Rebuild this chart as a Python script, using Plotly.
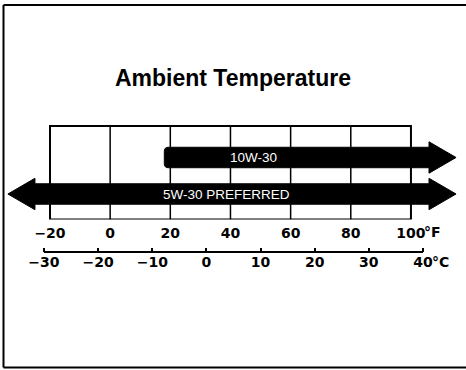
import plotly.graph_objects as go

# Oil grades and the ambient temperature span (°F) each is recommended for.
grades = ["10W-30", "5W-30 PREFERRED"]
grade_from_f = [18, -34]        # left end of each band
grade_to_f = [115, 115]         # right end of each band
open_low = [False, True]        # band continues below its left end
open_high = [True, True]        # band continues above its right end
grade_lane = [2, 1]

f_ticks = [-20, 0, 20, 40, 60, 80, 100]
f_ticktext = ["\u221220", "0", "20", "40", "60", "80", "100"]
c_ticks = [-30, -20, -10, 0, 10, 20, 30, 40]
c_ticktext = ["\u221230", "\u221220", "\u221210", "0", "10", "20", "30", "40"]

W, H = 466, 370
X_RANGE_F = [-36.62, 118.3]
Y_RANGE = [0.3014, 6.315]
BOX_TOP = 2.863
AXIS_BOTTOM_PX = 219.5
C_AXIS_PX = 252


def f_to_c(f):
    return (f - 32) * 5 / 9


def arrow_path(x0, x1, yc, left_open, right_open, bh=0.28, hh=0.43, hl=9.0, rx=1.3, ry=0.11):
    xl = x0 + hl if left_open else x0
    xr = x1 - hl if right_open else x1
    p = []
    if left_open:
        p.append(f"M {x0},{yc} L {xl},{yc - hh} L {xl},{yc - bh}")
    else:
        p.append(f"M {x0},{yc + bh - ry} L {x0},{yc - bh + ry} Q {x0},{yc - bh} {x0 + rx},{yc - bh}")
    if right_open:
        p.append(f"L {xr},{yc - bh} L {xr},{yc - hh} L {x1},{yc} L {xr},{yc + hh} L {xr},{yc + bh}")
    else:
        p.append(f"L {x1},{yc - bh} L {x1},{yc + bh}")
    if left_open:
        p.append(f"L {xl},{yc + bh} L {xl},{yc + hh} Z")
    else:
        p.append(f"L {x0 + rx},{yc + bh} Q {x0},{yc + bh} {x0},{yc + bh - ry} Z")
    return " ".join(p)


fig = go.Figure()
# invisible traces so both x axes are drawn
fig.add_trace(go.Scatter(x=[X_RANGE_F[0]], y=[Y_RANGE[0]], mode="markers",
                         marker=dict(opacity=0), hoverinfo="skip", showlegend=False))
fig.add_trace(go.Scatter(x=[f_to_c(X_RANGE_F[0])], y=[Y_RANGE[0]], xaxis="x2", mode="markers",
                         marker=dict(opacity=0), hoverinfo="skip", showlegend=False))

shapes = []
# grid box, one column per 20 °F
shapes.append(dict(type="rect", xref="x", yref="y", x0=f_ticks[0], x1=f_ticks[-1],
                   y0=Y_RANGE[0], y1=BOX_TOP, line=dict(color="black", width=2), layer="below"))
for f in f_ticks[1:-1]:
    shapes.append(dict(type="line", xref="x", yref="y", x0=f, x1=f, y0=Y_RANGE[0], y1=BOX_TOP,
                       line=dict(color="black", width=1.5), layer="below"))

# grade arrows
for g, a, b, lo, hi, lane in zip(grades, grade_from_f, grade_to_f, open_low, open_high, grade_lane):
    shapes.append(dict(type="path", xref="x", yref="y", path=arrow_path(a, b, lane, lo, hi),
                       fillcolor="black", line=dict(color="black", width=1)))

# Celsius scale line
c_pos = 1 - C_AXIS_PX / H
shapes.append(dict(type="line", xref="x2", yref="paper", x0=c_ticks[0], x1=c_ticks[-1],
                   y0=c_pos, y1=c_pos, line=dict(color="black", width=2)))

# page border: top, left and bottom edges
top_y, bot_y, left_x = 1 - 5 / H, 1 - 367.5 / H, 3.5 / W
for x0, y0, x1, y1 in [(left_x, top_y, 1.0, top_y), (left_x, top_y, left_x, bot_y),
                       (left_x, bot_y, 1.0, bot_y)]:
    shapes.append(dict(type="line", xref="paper", yref="paper", x0=x0, y0=y0, x1=x1, y1=y1,
                       line=dict(color="black", width=2)))

label_x = [47.5, 38.8]
annotations = []
for g, lane, lx in zip(grades, grade_lane, label_x):
    annotations.append(dict(x=lx, y=lane, xref="x", yref="y", text=g, showarrow=False,
                            font=dict(family="Liberation Sans", size=13.5, color="white")))

tick_font = dict(family="DejaVu Sans", size=14, color="black", weight="bold")
annotations.append(dict(x=f_ticks[-1], y=1 - 232 / H, xref="x", yref="paper", text="°F",
                        showarrow=False, xanchor="left", yanchor="middle", xshift=11, font=tick_font))
annotations.append(dict(x=c_ticks[-1], y=1 - 262 / H, xref="x2", yref="paper", text="°C",
                        showarrow=False, xanchor="left", yanchor="middle", xshift=7, font=tick_font))

fig.update_layout(
    width=W, height=H,
    margin=dict(l=0, r=0, t=0, b=0),
    paper_bgcolor="white", plot_bgcolor="white",
    showlegend=False,
    title=dict(text="Ambient Temperature", x=0.5, xanchor="center", y=1 - 78 / H, yanchor="middle",
               font=dict(family="Liberation Sans", size=23, color="black", weight="bold")),
    xaxis=dict(range=X_RANGE_F, anchor="y", showgrid=False, zeroline=False, showline=False,
               tickmode="array", tickvals=f_ticks, ticktext=f_ticktext, ticks="",
               ticklabelstandoff=3, tickfont=tick_font, fixedrange=True),
    xaxis2=dict(range=[f_to_c(X_RANGE_F[0]), f_to_c(X_RANGE_F[1])], overlaying="x", anchor="free",
                position=c_pos, side="bottom", showgrid=False, zeroline=False, showline=False,
                tickmode="array", tickvals=c_ticks, ticktext=c_ticktext, ticks="inside",
                ticklen=4, tickwidth=1.5, tickcolor="black", tickfont=tick_font, fixedrange=True),
    yaxis=dict(range=Y_RANGE, domain=[1 - AXIS_BOTTOM_PX / H, 1], visible=False, fixedrange=True),
    shapes=shapes,
    annotations=annotations,
)

fig.write_html("out.html")
